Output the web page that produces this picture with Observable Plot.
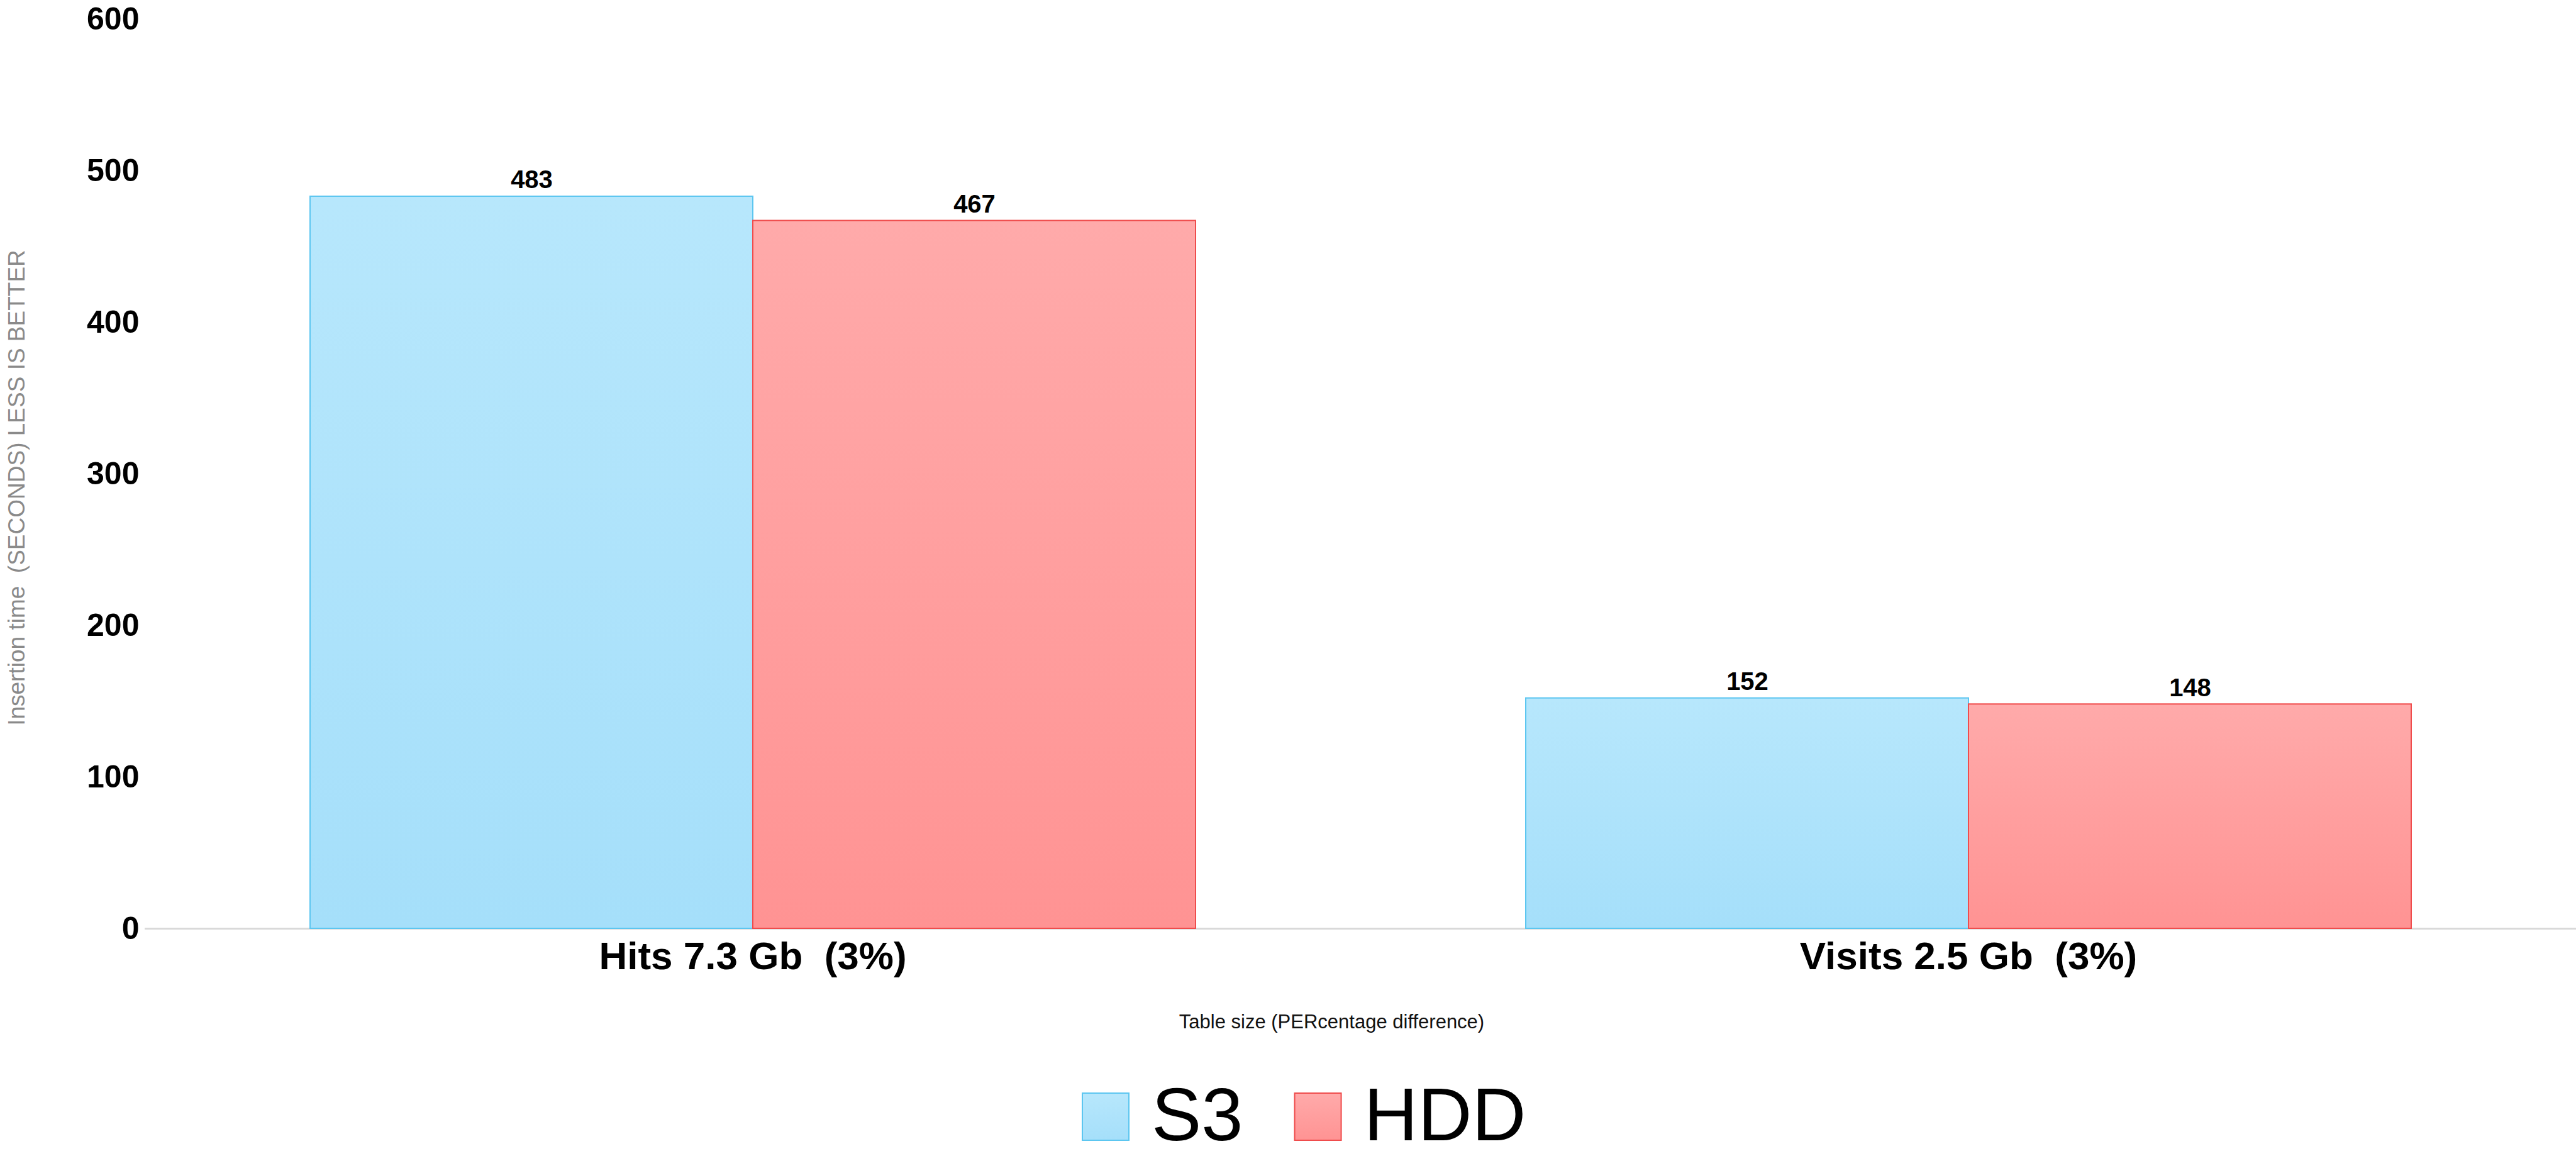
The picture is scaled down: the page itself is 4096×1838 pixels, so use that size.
<!DOCTYPE html>
<html>
<head>
<meta charset="utf-8">
<script src="https://cdn.jsdelivr.net/npm/d3@7"></script>
<script src="https://cdn.jsdelivr.net/npm/@observablehq/plot@0.6"></script>
<style>
  html, body { margin: 0; padding: 0; background: #fff; }
  #chart { position: relative; width: 4096px; height: 1838px; overflow: hidden; font-family: "Liberation Sans", Arial, sans-serif; }
  #chart svg text { white-space: pre; }
  #legend { position: absolute; left: 0; top: 1700px; overflow: visible; }
</style>
</head>
<body>
<div id="chart"></div>
<script>
// ---- data ----
const categories = ["Hits 7.3 Gb  (3%)", "Visits 2.5 Gb  (3%)"];
const series = ["S3", "HDD"];
const s3Values = [483, 152];
const hddValues = [467, 148];
const yTicks = [0, 100, 200, 300, 400, 500, 600];
const yTitle = "Insertion time  (SECONDS) LESS IS BETTER";
const xTitle = "Table size (PERcentage difference)";

// ---- styles ----
const gradTop = {S3: "#b7e7fc", HDD: "#ffaaaa"};
const gradBottom = {S3: "#a5dffa", HDD: "#ff9393"};
const strokes = {S3: "#5cc6f0", HDD: "#ef4c4c"};
const gradId = {S3: "gradS3", HDD: "gradHDD"};

const rows = [];
categories.forEach((c, i) => {
  rows.push({category: c, series: "S3", value: s3Values[i]});
  rows.push({category: c, series: "HDD", value: hddValues[i]});
});

// gradient definitions (shared by chart and legend)
const defsSvg = d3.select("body").insert("svg", ":first-child")
  .attr("width", 0).attr("height", 0)
  .style("position", "absolute");
const defs = defsSvg.append("defs");
series.forEach(s => {
  const g = defs.append("linearGradient")
    .attr("id", gradId[s]).attr("x1", 0).attr("y1", 0).attr("x2", 0).attr("y2", 1);
  g.append("stop").attr("offset", "0%").attr("stop-color", gradTop[s]);
  g.append("stop").attr("offset", "100%").attr("stop-color", gradBottom[s]);
});

const font = "Liberation Sans, Arial, sans-serif";
const first = () => categories[0];

const plot = Plot.plot({
  width: 4096,
  height: 1700,
  marginTop: 30,
  marginLeft: 230,
  marginRight: 0,
  marginBottom: 224,
  style: {background: "white", color: "black", fontFamily: font},
  fx: {domain: categories, padding: 0},
  x: {domain: series, paddingInner: 0, paddingOuter: 0.372, axis: null},
  y: {domain: [0, 600]},
  marks: [
    Plot.ruleY([0], {stroke: "#d9d9d9", strokeWidth: 3}),
    ...series.map(s => Plot.barY(rows.filter(d => d.series === s), {
      fx: "category", x: "series", y: "value",
      fill: `url(#${gradId[s]})`, stroke: strokes[s], strokeWidth: 2
    })),
    Plot.text(rows, {
      fx: "category", x: "series", y: "value", text: d => String(d.value),
      lineAnchor: "bottom", dy: -13, fontSize: 40, fontWeight: "bold", fill: "#000"
    }),
    Plot.axisY({
      ticks: yTicks, tickSize: 0, tickPadding: 9, fontSize: 50, fontWeight: "bold",
      label: null, tickFormat: d => String(d)
    }),
    Plot.axisFx({
      anchor: "bottom", tickSize: 0, tickPadding: 20, fontSize: 62, fontWeight: "bold", label: null
    }),
    Plot.text([yTitle], {
      fx: first, frameAnchor: "left", rotate: -90, textAnchor: "middle", lineAnchor: "bottom",
      dx: -192, dy: 22, fontSize: 37, fill: "#8a8a8a", text: d => d
    }),
    Plot.text([xTitle], {
      fx: first, frameAnchor: "bottom-right", textAnchor: "middle", lineAnchor: "bottom",
      dx: -46, dy: 158, fontSize: 31, fill: "#111", text: d => d
    })
  ]
});
document.getElementById("chart").appendChild(plot);

// ---- legend (below the chart) ----
const legend = d3.select("#chart").append("svg")
  .attr("id", "legend").attr("width", 4096).attr("height", 138)
  .style("font-family", font);
const legendStart = 1721, swatch = 74, textGap = 36, itemGap = 82;
let lx = legendStart;
series.forEach(s => {
  legend.append("rect")
    .attr("x", lx).attr("y", 38).attr("width", swatch).attr("height", 75)
    .attr("fill", `url(#${gradId[s]})`).attr("stroke", strokes[s]).attr("stroke-width", 2);
  const t = legend.append("text")
    .attr("x", lx + swatch + textGap).attr("y", 113)
    .attr("font-size", 119).attr("fill", "#000").text(s);
  lx = lx + swatch + textGap + t.node().getComputedTextLength() + itemGap;
});
</script>
</body>
</html>
